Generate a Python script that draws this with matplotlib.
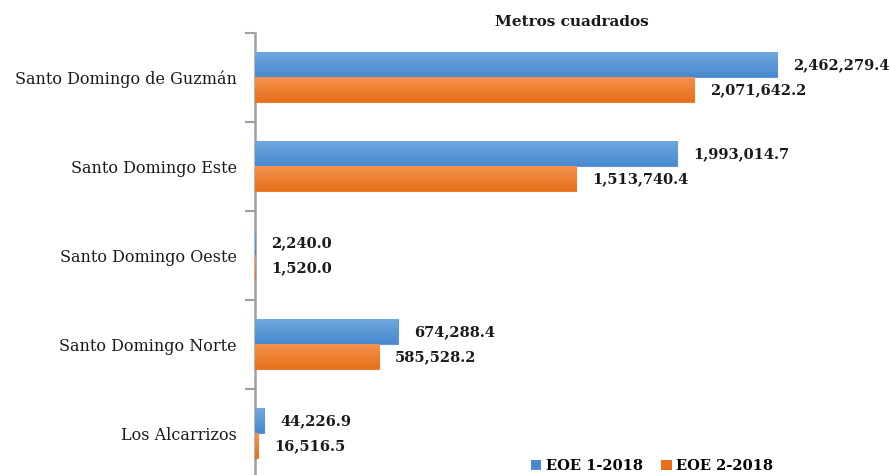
import numpy as np
import matplotlib.pyplot as plt
from matplotlib.colors import LinearSegmentedColormap
from matplotlib.patches import Patch

municipios = ["Santo Domingo de Guzmán", "Santo Domingo Este", "Santo Domingo Oeste",
              "Santo Domingo Norte", "Los Alcarrizos"]
eoe1 = [2462279.4, 1993014.7, 2240.0, 674288.4, 44226.9]
eoe2 = [2071642.2, 1513740.4, 1520.0, 585528.2, 16516.5]
series = ["EOE 1-2018", "EOE 2-2018"]

blue = ("#70a7de", "#4889cf")
orange = ("#f5924f", "#e76f19")

plt.rcParams["font.family"] = ["DejaVu Serif"]

fig = plt.figure(figsize=(8.91, 4.75), dpi=100)
ax = fig.add_axes([0.286, -0.006, 0.714, 0.9365])

y = np.arange(len(municipios))
h = 0.28


def gradient_bars(bars, cols):
    # vertical shading, lighter on top like the office-style bars
    cmap = LinearSegmentedColormap.from_list("g", [cols[0], cols[1]])
    grad = np.linspace(0, 1, 64).reshape(-1, 1)
    for b in bars:
        x0, y0 = b.get_x(), b.get_y()
        w, hh = b.get_width(), b.get_height()
        ax.imshow(grad, cmap=cmap, aspect="auto", extent=(x0, x0 + w, y0 + hh, y0),
                  origin="upper", zorder=2)


# solid bars stay underneath with a thin edge so tiny values still tint the axis line
b1 = ax.barh(y - h / 2, eoe1, height=h, color=blue[1], edgecolor=blue[1], linewidth=0.8,
             alpha=0.8, zorder=2)
b2 = ax.barh(y + h / 2, eoe2, height=h, color=orange[1], edgecolor=orange[1], linewidth=0.8,
             alpha=0.8, zorder=2)
gradient_bars(b1, blue)
gradient_bars(b2, orange)

for yy, v in zip(y, eoe1):
    ax.annotate(f"{v:,.1f}", (v, yy - h / 2), xytext=(11.5, 0), textcoords="offset points",
                va="center", ha="left", fontsize=10.5, fontweight="bold", color="#1a1a1a")
for yy, v in zip(y, eoe2):
    ax.annotate(f"{v:,.1f}", (v, yy + h / 2), xytext=(11.5, 0), textcoords="offset points",
                va="center", ha="left", fontsize=10.5, fontweight="bold", color="#1a1a1a")

ax.set_xlim(0, 3.0e6)
ax.set_ylim(len(municipios) - 0.5, -0.5)

ax.set_yticks(y)
ax.set_yticklabels(municipios, fontsize=11.5, color="#1a1a1a")
ax.set_yticks(np.arange(len(municipios) + 1) - 0.5, minor=True)
ax.tick_params(axis="y", which="major", length=0, pad=13)
ax.tick_params(axis="y", which="minor", length=7, width=1.5, color="#a0a0a0")
ax.set_xticks([])

for s in ["top", "right", "bottom"]:
    ax.spines[s].set_visible(False)
ax.spines["left"].set_color("#a0a0a0")
ax.spines["left"].set_linewidth(1.8)
ax.spines["left"].set_zorder(1)

fig.text(572 / 891, 1 - 22 / 475, "Metros cuadrados", ha="center", va="center",
         fontsize=11, fontweight="bold", color="#1a1a1a")

handles = [Patch(facecolor=blue[1]), Patch(facecolor=orange[1])]
fig.legend(handles, series, loc="center", bbox_to_anchor=(652 / 891, 1 - 466 / 475),
           ncol=2, frameon=False, handlelength=0.7, handleheight=0.7, handletextpad=0.3,
           columnspacing=1.3, prop={"weight": "bold", "size": 10.5})

fig.savefig("out.png", dpi=100)
